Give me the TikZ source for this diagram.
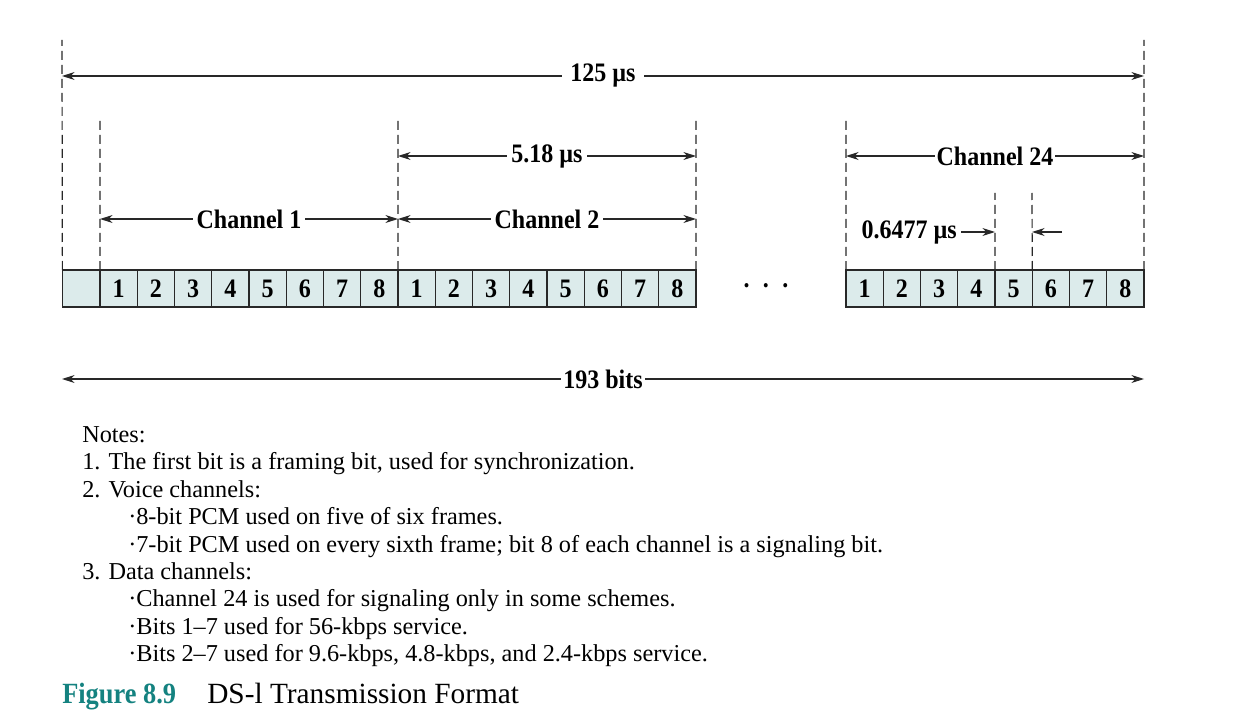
\documentclass[tikz,border=0pt]{standalone}
\usepackage{fontspec}
\setmainfont{Liberation Serif}
\newfontfamily\labfont{Liberation Serif Bold}[FakeStretch=0.9]
\usetikzlibrary{arrows.meta}
\definecolor{cellblue}{RGB}{220,235,235}
\definecolor{figteal}{RGB}{20,130,128}
\definecolor{linegray}{RGB}{40,40,40}
\newcommand{\noteindent}{\hspace*{34.5pt}}
\tikzstyle{bitcell} = [rectangle, minimum width=27.94pt, minimum height=27.75pt, inner sep=0pt, outer sep=0pt, text centered, draw=linegray, line width=1.1pt, fill=cellblue, font=\labfont\fontsize{20}{20}\selectfont]
\tikzstyle{guide} = [draw=linegray, line width=0.9pt, dash pattern=on 6.75pt off 3.75pt]
\tikzstyle{dim} = [draw=linegray, line width=0.8pt, >={Stealth[length=9.5pt,width=6pt]}]
\tikzstyle{lab} = [fill=white, inner sep=3pt, font=\labfont\fontsize{20}{20}\selectfont]
\tikzstyle{note} = [anchor=north west, align=left, inner sep=0pt, font=\fontsize{18.2}{20.6}\selectfont]
\begin{document}
\begin{tikzpicture}[x=0.75pt, y=-0.75pt]
		\useasboundingbox (0,0) rectangle (1234,727);
		% frame: framing bit, then channels 1, 2 and 24
		\node (fbit) [bitcell] at (81,288.5) {};
		\foreach \i in {1,...,8} {
			\node (c1b\i) [bitcell] at ({100+37.25*(\i-0.5)},288.5) {\i};
			\node (c2b\i) [bitcell] at ({398+37.25*(\i-0.5)},288.5) {\i};
			\node (c24b\i) [bitcell] at ({846+37.25*(\i-0.5)},288.5) {\i};
		}
		\node (dots) at (766,289) {\labfont\fontsize{20}{20}\selectfont ·\hspace{8.5pt}·\hspace{8.5pt}·};
		% dashed guides
		\coordinate (g0) at (62,40);
		\coordinate (g1) at (100,120);
		\coordinate (g2) at (398,120);
		\coordinate (g3) at (696,120);
		\coordinate (g4) at (846,120);
		\coordinate (g5) at (1144,40);
		\coordinate (g6) at (995,193);
		\coordinate (g7) at (1032,193);
		\draw [guide] (fbit.north west) -- (g0);
		\draw [guide] (c1b1.north west) -- (g1);
		\draw [guide] (c2b1.north west) -- (g2);
		\draw [guide] (c2b8.north east) -- (g3);
		\draw [guide] (c24b1.north west) -- (g4);
		\draw [guide] (c24b8.north east) -- (g5);
		\draw [guide] (c24b5.north west) -- (g6);
		\draw [guide] (c24b6.north west) -- (g7);
		% dimension arrows
		\coordinate (frl) at (62,76);
		\coordinate (frr) at (1144,76);
		\coordinate (ch1l) at (100,219);
		\coordinate (ch1r) at (398,219);
		\coordinate (ch2r) at (696,219);
		\coordinate (sl) at (398,156);
		\coordinate (sr) at (696,156);
		\coordinate (ch24l) at (846,156);
		\coordinate (ch24r) at (1144,156);
		\coordinate (bl) at (62,379);
		\coordinate (br) at (1144,379);
		\coordinate (p5) at (995,232);
		\coordinate (p6) at (1032,232);
		\coordinate (p6r) at (1062,232);
		\draw [dim, <->] (frl) -- node[lab, inner sep=6pt] {125 µs} (frr);
		\draw [dim, <->] (ch1l) -- node[lab] {Channel 1} (ch1r);
		\draw [dim, <->] (ch1r) -- node[lab] {Channel 2} (ch2r);
		\draw [dim, <->] (sl) -- node[lab] {5.18 µs} (sr);
		\draw [dim, <->] (ch24l) -- node[lab, inner sep=1pt] {Channel 24} (ch24r);
		\draw [dim, <->] (bl) -- node[lab, inner sep=1.5pt] {193 bits} (br);
		\node (pw) [lab, anchor=east] at (961,232) {0.6477 µs};
		\draw [dim, ->] (pw.east) -- (p5);
		\draw [dim, ->] (p6r) -- (p6);
		% notes and caption
		\node (notes) [note] at (82,426) {Notes:\\
			1. The first bit is a framing bit, used for synchronization.\\
			2. Voice channels:\\
			\noteindent·8-bit PCM used on five of six frames.\\
			\noteindent·7-bit PCM used on every sixth frame; bit 8 of each channel is a signaling bit.\\
			3. Data channels:\\
			\noteindent·Channel 24 is used for signaling only in some schemes.\\
			\noteindent·Bits 1–7 used for 56-kbps service.\\
			\noteindent·Bits 2–7 used for 9.6-kbps, 4.8-kbps, and 2.4-kbps service.};
		\node (fig) [anchor=base west, inner sep=0pt, text=figteal, font=\labfont\fontsize{22}{22}\selectfont] at (62,703) {Figure 8.9};
		\node (title) [anchor=base west, inner sep=0pt, font=\fontsize{22}{22}\selectfont] at (207,703) {DS-l Transmission Format};
	\end{tikzpicture}
\end{document}
